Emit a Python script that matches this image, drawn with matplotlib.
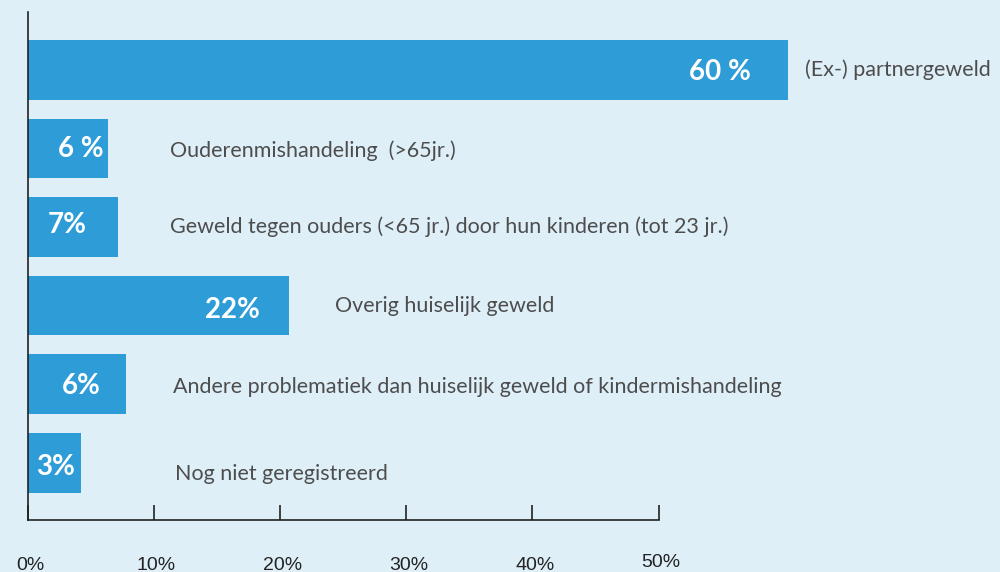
import matplotlib.pyplot as plt
import matplotlib.transforms as mtransforms

# ================== data ==================
categories = [
    "(Ex-) partnergeweld",
    "Ouderenmishandeling  (>65jr.)",
    "Geweld tegen ouders (<65 jr.) door hun kinderen (tot 23 jr.)",
    "Overig huiselijk geweld",
    "Andere problematiek dan huiselijk geweld of kindermishandeling",
    "Nog niet geregistreerd",
]
bar_lengths = [60.3, 6.4, 7.2, 20.7, 7.8, 4.2]   # as drawn, in % of the axis
value_labels = ["60 %", "6 %", "7%", "22%", "6%", "3%"]
ticks = [0, 10, 20, 30, 40, 50]
tick_labels = ["0%", "10%", "20%", "30%", "40%", "50%"]
# ==========================================

BG = "#dfeff8"
BAR = "#2e9cd7"
TXT = "#4d4d4d"

# layout (data units): where the texts sit
cat_x = [61.6, 11.3, 11.3, 24.4, 11.5, 11.7]
cat_dy = [0.0, 0.03, 0.0, 0.0, 0.03, 0.15]
val_right = [57.3, 6.0, 4.7, 18.4, 5.8, 3.8]
val_dy = [0.03, 0.0, -0.03, 0.06, 0.02, 0.05]

fig = plt.figure(figsize=(10, 5.72), dpi=100)
fig.patch.set_facecolor(BG)
ax = fig.add_axes([27.5 / 1000, 52 / 572, (658.5 - 27.5) / 1000, 508 / 572])
ax.set_facecolor(BG)

y = list(range(len(categories)))
ax.barh(y, bar_lengths, height=0.76, color=BAR, clip_on=False, zorder=2)

ax.set_xlim(0, 50)
ax.set_ylim(5.73, -0.74)

for i in y:
    ax.text(cat_x[i], i + cat_dy[i], categories[i], ha="left", va="center",
            fontsize=15.5, color=TXT, family=["Lato", "DejaVu Sans"],
            fontweight="normal", clip_on=False)
    ax.text(val_right[i], i + val_dy[i], value_labels[i], ha="right", va="center",
            fontsize=20, color="white", fontweight="bold",
            family=["Lato", "DejaVu Sans"], clip_on=False, zorder=3)

for s in ["top", "right"]:
    ax.spines[s].set_visible(False)
ax.spines["left"].set_linewidth(1.2)
ax.spines["bottom"].set_linewidth(1.2)
ax.spines["left"].set_color("#222222")
ax.spines["bottom"].set_color("#222222")

ax.set_yticks([])
ax.set_xticks(ticks)
ax.set_xticklabels([])
ax.tick_params(axis="x", direction="in", length=11, width=1.2, color="#222222")

trans = mtransforms.blended_transform_factory(ax.transData, ax.transAxes)
for t, lab in zip(ticks, tick_labels):
    dy = -37 / 508 if t < 50 else -34 / 508
    ax.text(t + 0.2, dy, lab, transform=trans, ha="center", va="top",
            fontsize=14, color="#222222", family="Liberation Sans", clip_on=False)

fig.savefig("out.png", dpi=100, facecolor=BG)
